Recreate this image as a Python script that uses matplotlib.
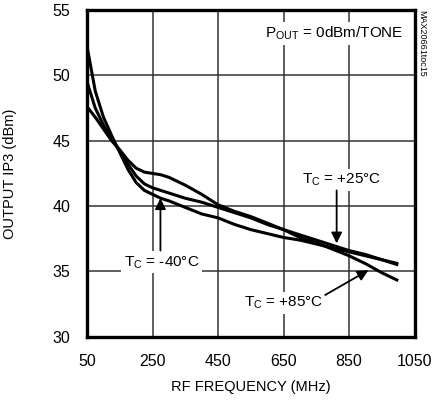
import matplotlib
matplotlib.use('Agg')
import matplotlib.pyplot as plt
import numpy as np

plt.rcParams['font.family'] = ['Liberation Sans', 'DejaVu Sans']
plt.rcParams['mathtext.fontset'] = 'custom'
plt.rcParams['mathtext.rm'] = 'Liberation Sans'
plt.rcParams['mathtext.it'] = 'Liberation Sans'

# RF frequency (MHz)
freq = [50, 75, 100, 125, 150, 175, 200, 225, 250, 275, 300, 350, 400, 450,
        500, 550, 600, 650, 700, 750, 800, 850, 900, 950, 1000]

# output IP3 (dBm) per case temperature
ip3_m40 = [52.2, 48.8, 46.8, 45.4, 44.1, 42.8, 41.8, 41.2, 40.9, 40.6, 40.4, 39.9, 39.4, 39.1,
           38.6, 38.2, 37.9, 37.6, 37.4, 37.1, 36.8, 36.5, 36.2, 35.9, 35.6]
ip3_p85 = [49.5, 47.5, 46.2, 45.1, 44.2, 43.2, 42.3, 41.7, 41.4, 41.2, 41.0, 40.6, 40.3, 39.9,
           39.5, 39.1, 38.6, 38.2, 37.6, 37.2, 36.7, 36.2, 35.6, 34.9, 34.3]
ip3_p25 = [47.6, 46.8, 45.9, 45.0, 44.3, 43.5, 42.9, 42.6, 42.5, 42.4, 42.2, 41.6, 40.9, 40.1,
           39.6, 39.2, 38.7, 38.2, 37.8, 37.4, 37.0, 36.6, 36.3, 35.9, 35.5]

xticks = [50, 250, 450, 650, 850, 1050]
yticks = [30, 35, 40, 45, 50, 55]

fig = plt.figure(figsize=(4.42, 4.01), dpi=100)
ax = fig.add_axes([0.197, 0.160, 0.741, 0.815])

for ys in (ip3_m40, ip3_p85, ip3_p25):
    ax.plot(freq, ys, color='black', lw=2.2, solid_capstyle='butt', zorder=3)

ax.set_xlim(50, 1050)
ax.set_ylim(30, 55)
ax.set_xticks(xticks)
ax.set_yticks(yticks)
ax.grid(True, color='#333333', lw=1.1, zorder=0)
ax.tick_params(length=0, labelsize=11.5, pad=12)
for sp in ax.spines.values():
    sp.set_linewidth(2.4)

ax.set_xlabel('RF FREQUENCY (MHz)', fontsize=10.5)
ax.set_ylabel('OUTPUT IP3 (dBm)', fontsize=10.5)
ax.xaxis.set_label_coords(0.5, -0.133)
ax.yaxis.set_label_coords(-0.215, 0.5)

box = dict(facecolor='white', edgecolor='none', pad=2)
ax.text(805, 53.2, r'P$_{\mathrm{OUT}}$ = 0dBm/TONE', fontsize=11, ha='center', va='center',
        bbox=box, zorder=4)
ax.text(828, 42.0, r'T$_{\mathrm{C}}$ = +25°C', fontsize=11, ha='center', va='center',
        bbox=box, zorder=4)
ax.text(278, 35.7, r'T$_{\mathrm{C}}$ = -40°C', fontsize=11, ha='center', va='center',
        bbox=box, zorder=4)
ax.text(650, 32.6, r'T$_{\mathrm{C}}$ = +85°C', fontsize=11, ha='center', va='center',
        bbox=box, zorder=4)

arrow = dict(arrowstyle='-|>', color='black', lw=1.3, mutation_scale=16, shrinkA=0, shrinkB=0)
ax.annotate('', xy=(812, 37.15), xytext=(812, 41.2), arrowprops=arrow, zorder=5)
ax.annotate('', xy=(274, 40.6), xytext=(274, 36.6), arrowprops=arrow, zorder=5)
ax.annotate('', xy=(909, 35.1), xytext=(777, 33.2), arrowprops=arrow, zorder=5)

fig.text(0.955, 0.975, 'MAX20661toc15', rotation=270, fontsize=6.5, ha='center', va='top')

fig.savefig('out.png', dpi=100)
